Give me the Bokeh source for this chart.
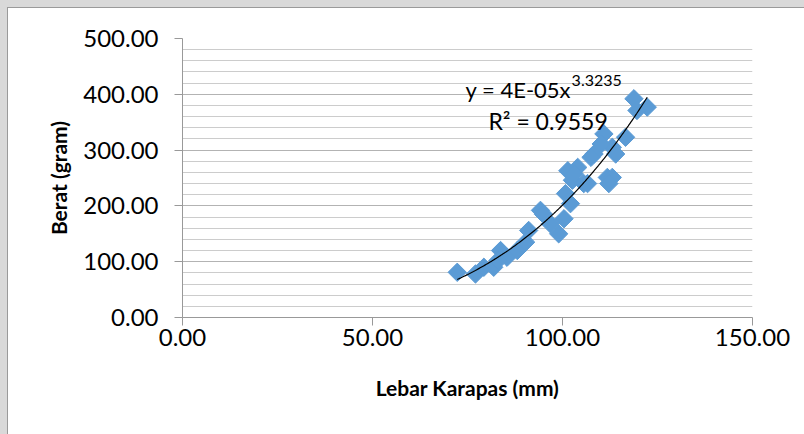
import numpy as np
from bokeh.plotting import figure
from bokeh.models import FixedTicker, NumeralTickFormatter, Label, ColumnDataSource
from bokeh.embed import file_html
from bokeh.resources import INLINE

# ---- data ----
lebar = [72.3, 77.1, 79.3, 81.9, 83.7, 85.4, 88.1, 90.3, 91.1, 94.2, 96.8, 99.0,
         100.4, 102.1, 100.8, 102.6, 105.6, 111.8, 101.4, 118.8, 122.3, 119.6,
         116.6, 110.9, 113.1, 114.0, 108.3, 104.0, 113.1, 112.2, 106.6, 103.1,
         107.5, 110.2, 95.0, 83.0]
berat = [81, 78, 90, 90, 120, 108, 120, 135, 156, 192, 168, 150,
         177, 204, 222, 246, 240, 251, 263, 392, 377, 371,
         323, 329, 305, 293, 293, 269, 251, 240, 240, 257,
         287, 311, 185, 102]

x_ticks = [0, 50, 100, 150]
y_ticks = [0, 100, 200, 300, 400, 500]
y_minor = list(range(0, 501, 20))

eq_text = "y = 4E-05x"
eq_exp = "3.3235"
r2_text = "R² = 0.9559"

# power trend line fitted from the data (log-log least squares)
lx = np.log(np.array(lebar, dtype=float))
ly = np.log(np.array(berat, dtype=float))
b_fit, ln_a = np.polyfit(lx, ly, 1)
tx = np.linspace(min(lebar), max(lebar), 200)
ty = np.exp(ln_a) * tx ** b_fit

FONT = "Lato"

p = figure(width=788, height=418, output_backend="svg", toolbar_location=None,
           x_range=(0, 150), y_range=(0, 500),
           min_border_left=174, min_border_right=44, min_border_top=30, min_border_bottom=109)
p.background_fill_color = "white"
p.border_fill_color = "white"
p.outline_line_color = None

p.xgrid.grid_line_color = None
p.ygrid.grid_line_color = "#b3b3b3"
p.ygrid.minor_grid_line_color = "#cccccc"

p.xaxis.ticker = FixedTicker(ticks=x_ticks)
p.yaxis.ticker = FixedTicker(ticks=y_ticks, minor_ticks=y_minor)
for ax in (p.xaxis, p.yaxis):
    ax.formatter = NumeralTickFormatter(format="0.00")
    ax.axis_line_color = "#999999"
    ax.major_tick_line_color = "#999999"
    ax.major_tick_out = 8
    ax.major_tick_in = 0
    ax.minor_tick_line_color = None
    ax.major_label_text_font = FONT
    ax.major_label_text_font_size = "24px"
    ax.major_label_text_color = "#000000"
    ax.axis_label_text_font = FONT
    ax.axis_label_text_font_style = "bold"
    ax.axis_label_text_font_size = "21px"
    ax.axis_label_text_color = "#000000"

p.xaxis.axis_label = "Lebar Karapas (mm)"
p.yaxis.axis_label = "Berat (gram)"
p.yaxis.major_label_standoff = 16
p.xaxis.major_label_standoff = 3
p.yaxis.axis_label_standoff = 9
p.xaxis.axis_label_standoff = 26

src = ColumnDataSource(data=dict(x=lebar, y=berat))
p.scatter("x", "y", source=src, marker="square", size=13, angle=np.pi / 4,
          fill_color="#5b9bd5", line_color="#5b9bd5")
p.line(tx, ty, line_color="black", line_width=1.2)

p.add_layout(Label(x=74.5, y=408, text=eq_text, text_font=FONT, text_font_size="22px",
                   text_baseline="alphabetic", text_color="black"))
p.add_layout(Label(x=102.4, y=425, text=eq_exp, text_font=FONT, text_font_size="16px",
                   text_baseline="alphabetic", text_color="black"))
p.add_layout(Label(x=80.5, y=353, text=r2_text, text_font=FONT, text_font_size="23px",
                   text_baseline="alphabetic", text_color="black"))

html = file_html(p, INLINE)
style = ("<style>"
         "html{height:100%;margin:0;padding:0;background:#d9d9d9;}"
         "body{margin:0;padding:0;position:absolute;left:7px;top:7px;right:0;bottom:0;"
         "border-left:1px solid #9a9a9a;border-top:1px solid #9a9a9a;background:#ffffff;"
         "overflow:hidden;}"
         "</style>")
html = html.replace("</head>", style + "</head>", 1)
open("out.html", "w").write(html)
